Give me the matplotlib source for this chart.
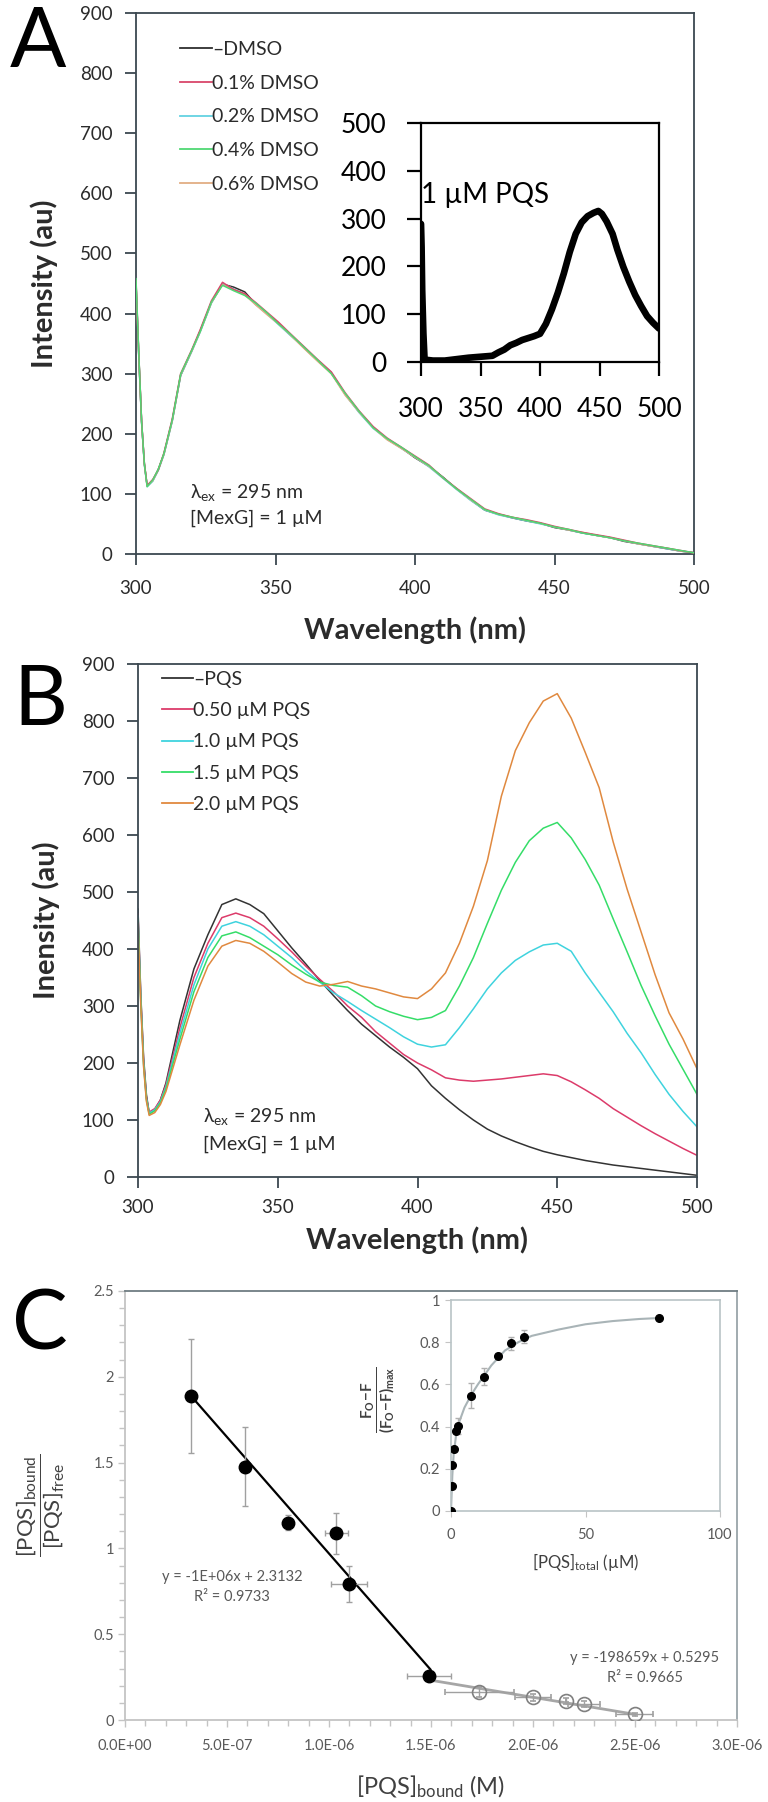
import matplotlib
matplotlib.use('Agg')
import matplotlib.pyplot as plt
from matplotlib.ticker import FixedLocator, FixedFormatter, MultipleLocator

W, H = 768, 1802
plt.rcParams['font.family'] = ['Lato', 'DejaVu Sans']
plt.rcParams['mathtext.fontset'] = 'custom'
plt.rcParams['mathtext.rm'] = 'Lato'
plt.rcParams['mathtext.it'] = 'Lato:italic'
plt.rcParams['mathtext.bf'] = 'Lato:bold'

# ---------------- Panel A data ----------------
wl_A = [300, 301, 302, 303, 304, 306, 308, 310, 313, 316, 320, 323, 327, 331, 335, 339, 343, 347,
        351, 355, 360, 365, 370, 375, 380, 385, 390, 395, 400, 405, 410, 415, 420, 425, 430, 435,
        440, 445, 450, 455, 460, 465, 470, 475, 480, 485, 490, 495, 500]
dmso_none = [450, 330, 220, 150, 113, 122, 141, 166, 222, 297, 338, 371, 418, 449, 444, 436, 415, 400,
             384, 366, 344, 322, 301, 266, 236, 211, 191, 177, 160, 146, 128, 108, 90, 73, 66, 60,
             55, 51, 44, 40, 35, 31, 27, 21, 17, 13, 9, 5, 2]
dmso_01 = [455, 332, 222, 151, 114, 124, 140, 168, 225, 300, 340, 373, 421, 452, 440, 433, 418, 402,
           386, 368, 346, 324, 303, 268, 238, 212, 193, 178, 163, 148, 127, 109, 92, 75, 67, 61,
           57, 52, 46, 41, 36, 32, 28, 23, 18, 14, 10, 6, 2]
dmso_02 = [452, 328, 219, 148, 112, 121, 139, 165, 221, 297, 337, 369, 417, 450, 441, 432, 415, 399,
           382, 365, 345, 323, 302, 265, 235, 209, 191, 176, 161, 145, 126, 107, 89, 73, 65, 60,
           55, 50, 45, 40, 35, 31, 27, 22, 17, 13, 9, 5, 2]
dmso_04 = [458, 333, 221, 150, 112, 123, 141, 167, 223, 299, 339, 370, 419, 447, 438, 430, 417, 401,
           383, 367, 345, 323, 300, 267, 237, 210, 192, 178, 162, 147, 127, 108, 91, 74, 66, 61,
           56, 51, 45, 41, 35, 31, 27, 22, 18, 14, 10, 6, 2]
dmso_06 = [453, 329, 220, 149, 113, 122, 140, 166, 222, 298, 338, 370, 418, 448, 440, 431, 414, 398,
           383, 366, 343, 321, 300, 264, 236, 210, 190, 176, 161, 146, 127, 108, 90, 74, 66, 61,
           56, 51, 45, 40, 36, 31, 27, 22, 17, 13, 10, 5, 2]
legend_A = ['–DMSO', '0.1% DMSO', '0.2% DMSO', '0.4% DMSO', '0.6% DMSO']
colors_A = ['#2e2e2e', '#d9476a', '#63d2e2', '#4fd873', '#e2ae84']

# inset of panel A (1 uM PQS)
ins_wl = [300, 300.5, 301, 302, 303, 310, 320, 330, 340, 350, 360, 365, 370, 375, 380, 385, 390,
          395, 400, 405, 410, 415, 420, 425, 430, 435, 440, 445, 449, 452, 456, 461, 465, 470,
          475, 480, 485, 490, 495, 500]
ins_int = [289, 240, 150, 60, 5, 3, 3, 6, 9, 11, 13, 20, 26, 35, 40, 46, 50,
           54, 59, 80, 110, 145, 185, 230, 268, 292, 305, 312, 316, 310, 294, 268, 235, 199,
           168, 140, 117, 96, 82, 70]

# ---------------- Panel B data ----------------
wl_B = [300, 301, 302, 303, 304, 306, 308, 310, 315, 320, 325, 330, 335, 340, 345, 350, 355, 360,
        365, 370, 375, 380, 385, 390, 395, 400, 405, 410, 415, 420, 425, 430, 435, 440, 445, 450,
        455, 460, 465, 470, 475, 480, 485, 490, 495, 500]
pqs_none = [470, 320, 210, 145, 112, 118, 135, 165, 275, 365, 425, 478, 488, 478, 462, 432, 402, 374,
            345, 318, 292, 268, 248, 228, 210, 190, 160, 138, 118, 100, 84, 72, 62, 53, 45, 39,
            34, 29, 25, 21, 18, 15, 12, 9, 6, 3]
pqs_050 = [462, 315, 205, 140, 114, 120, 135, 162, 262, 350, 410, 455, 463, 455, 440, 418, 395, 370,
           347, 325, 300, 280, 255, 235, 215, 200, 188, 174, 170, 168, 170, 172, 175, 178, 181, 178,
           167, 153, 138, 120, 105, 90, 76, 63, 50, 38]
pqs_10 = [458, 310, 200, 138, 112, 118, 132, 158, 252, 337, 400, 440, 448, 440, 425, 405, 385, 362,
          342, 323, 308, 292, 277, 262, 246, 233, 228, 232, 262, 295, 330, 358, 380, 395, 407, 410,
          396, 358, 324, 290, 252, 218, 180, 145, 115, 88]
pqs_15 = [452, 305, 197, 136, 110, 116, 130, 155, 242, 325, 385, 423, 430, 420, 405, 390, 372, 356,
          342, 336, 333, 318, 300, 290, 282, 276, 280, 292, 335, 385, 445, 503, 552, 590, 612, 622,
          595, 557, 512, 453, 395, 336, 283, 233, 189, 145]
pqs_20 = [445, 300, 193, 133, 108, 113, 127, 150, 232, 310, 370, 405, 415, 410, 396, 377, 357, 342,
          335, 338, 343, 335, 330, 323, 316, 313, 330, 358, 410, 475, 555, 668, 748, 797, 835, 848,
          805, 745, 683, 588, 505, 430, 355, 288, 242, 190]
legend_B = ['–PQS', '0.50 µM PQS', '1.0 µM PQS', '1.5 µM PQS', '2.0 µM PQS']
colors_B = ['#333333', '#dc3b6a', '#3fd3de', '#35dd68', '#e0893f']

ticks_AB_x = [300, 350, 400, 450, 500]
ticks_AB_y = [0, 100, 200, 300, 400, 500, 600, 700, 800, 900]
ticks_inset_y = [0, 100, 200, 300, 400, 500]

# ---------------- Panel C data ----------------
bound_filled = [3.24e-7, 5.88e-7, 8.0e-7, 1.036e-6, 1.096e-6, 1.49e-6]
ratio_filled = [1.888, 1.476, 1.150, 1.087, 0.794, 0.256]
ratio_filled_err = [0.33, 0.23, 0.045, 0.12, 0.105, 0.02]
bound_filled_err = [0.0, 2.5e-8, 0.0, 5.6e-8, 8.8e-8, 1.08e-7]
bound_open = [1.737e-6, 2.0e-6, 2.163e-6, 2.25e-6, 2.499e-6]
ratio_open = [0.165, 0.132, 0.111, 0.093, 0.033]
ratio_open_err = [0.03, 0.02, 0.015, 0.015, 0.01]
bound_open_err = [1.7e-7, 9e-8, 0.0, 7.8e-8, 9e-8]
fit1_x = [3.24e-7, 1.497e-6]
fit1_y = [1.888, 0.295]
fit2_x = [1.49e-6, 2.5e-6]
fit2_y = [0.2335, 0.0329]
c_xticks = [0, 5e-7, 1e-6, 1.5e-6, 2e-6, 2.5e-6, 3e-6]
c_xticklabels = ['0.0E+00', '5.0E-07', '1.0E-06', '1.5E-06', '2.0E-06', '2.5E-06', '3.0E-06']
c_yticks = [0, 0.5, 1, 1.5, 2, 2.5]
c_yticklabels = ['0', '0.5', '1', '1.5', '2', '2.5']

# inset of panel C (saturation binding)
tot_pqs = [0, 0.3, 0.5, 1.0, 2.0, 2.5, 7.3, 12.4, 17.3, 22.2, 27.3, 77.4]
frac_q = [0, 0.118, 0.217, 0.292, 0.379, 0.403, 0.546, 0.636, 0.735, 0.794, 0.826, 0.913]
frac_q_err = [0, 0, 0, 0, 0.01, 0.04, 0.06, 0.04, 0.015, 0.03, 0.03, 0.0]
satfit_x = [0, 0.5, 1, 2, 3, 5, 7.5, 10, 15, 20, 25, 30, 40, 50, 60, 70, 78]
satfit_y = [0, 0.17, 0.27, 0.37, 0.42, 0.49, 0.55, 0.60, 0.69, 0.76, 0.80, 0.83, 0.86, 0.885, 0.90, 0.91, 0.915]
ci_xticks = [0, 50, 100]
ci_yticks = [0, 0.2, 0.4, 0.6, 0.8, 1.0]
ci_yticklabels = ['0', '0.2', '0.4', '0.6', '0.8', '1']

# ---------------- helpers ----------------
fig = plt.figure(figsize=(W / 100, H / 100), dpi=100)


def rect(x0, y0, x1, y1):
    return [x0 / W, 1 - y1 / H, (x1 - x0) / W, (y1 - y0) / H]


def fx(x):
    return x / W


def fy(y):
    return 1 - y / H


SPINE = '#3b4850'
TXT = '#2b2b2b'


def style_spectrum_axes(ax, xpad, ypad):
    ax.set_xlim(300, 500)
    ax.set_ylim(0, 900)
    ax.set_xticks(ticks_AB_x)
    ax.set_yticks(ticks_AB_y)
    for s in ax.spines.values():
        s.set_color(SPINE)
        s.set_linewidth(1.3)
    ax.tick_params(direction='out', length=8, width=1.3, color=SPINE,
                   labelsize=13.5, labelcolor=TXT)
    ax.tick_params(axis='x', pad=xpad)
    ax.tick_params(axis='y', pad=ypad)


# ---------------- Panel A ----------------
axA = fig.add_axes(rect(136, 13, 694, 554))
zA = [2, 3, 2.5, 4, 2.8]
for lab, col, vals, z in zip(legend_A, colors_A, [dmso_none, dmso_01, dmso_02, dmso_04, dmso_06], zA):
    axA.plot(wl_A, vals, color=col, lw=1.1, label=lab, zorder=z)
style_spectrum_axes(axA, 11, 9)
legA = axA.legend(loc='upper left', bbox_to_anchor=(fx(180), fy(41)), bbox_transform=fig.transFigure,
                  frameon=False, fontsize=14, handlelength=1.65, handletextpad=0.0,
                  labelspacing=0.86, borderpad=0, borderaxespad=0)
for t in legA.get_texts():
    t.set_color(TXT)
for l in legA.get_lines():
    l.set_linewidth(1.3)

fig.text(fx(38), fy(67), 'A', fontsize=60, ha='center', va='baseline', color='black')
fig.text(fx(44), fy(284), 'Intensity (au)', fontsize=21, fontweight='bold', rotation=90,
         ha='center', va='center', color=TXT)
fig.text(fx(415), fy(630), 'Wavelength (nm)', fontsize=21, fontweight='bold',
         ha='center', va='center', color=TXT)
fig.text(fx(190), fy(498), r'$\mathregular{\lambda_{ex}}$ = 295 nm', fontsize=14, color=TXT, va='baseline')
fig.text(fx(190), fy(524), '[MexG] = 1 µM', fontsize=14, color=TXT, va='baseline')

axI = fig.add_axes(rect(421, 123, 659, 362))
axI.plot(ins_wl, ins_int, color='black', lw=4.8, solid_joinstyle='round', solid_capstyle='round')
axI.set_xlim(300, 500)
axI.set_ylim(0, 500)
axI.set_xticks(ticks_AB_x)
axI.set_yticks(ticks_inset_y)
for s in axI.spines.values():
    s.set_color('black')
    s.set_linewidth(1.6)
axI.tick_params(direction='out', length=10, width=1.6, color='black', labelsize=19, labelcolor='black')
axI.tick_params(axis='y', pad=15)
axI.tick_params(axis='x', pad=15)
fig.text(fx(421), fy(203), '1 µM PQS', fontsize=20, color='black', va='baseline')

# ---------------- Panel B ----------------
axB = fig.add_axes(rect(138, 664, 697, 1177))
for lab, col, vals in zip(legend_B, colors_B, [pqs_none, pqs_050, pqs_10, pqs_15, pqs_20]):
    axB.plot(wl_B, vals, color=col, lw=1.1, label=lab)
style_spectrum_axes(axB, 8, 9)
legB = axB.legend(loc='upper left', bbox_to_anchor=(fx(162), fy(671)), bbox_transform=fig.transFigure,
                  frameon=False, fontsize=14, handlelength=1.6, handletextpad=0.0,
                  labelspacing=0.73, borderpad=0, borderaxespad=0)
for t in legB.get_texts():
    t.set_color(TXT)
for l in legB.get_lines():
    l.set_linewidth(1.3)

fig.text(fx(40), fy(725), 'B', fontsize=60, ha='center', va='baseline', color='black')
fig.text(fx(46), fy(920), 'Inensity (au)', fontsize=21, fontweight='bold', rotation=90,
         ha='center', va='center', color=TXT)
fig.text(fx(417), fy(1240), 'Wavelength (nm)', fontsize=21, fontweight='bold',
         ha='center', va='center', color=TXT)
fig.text(fx(203), fy(1122), r'$\mathregular{\lambda_{ex}}$ = 295 nm', fontsize=14, color=TXT, va='baseline')
fig.text(fx(203), fy(1150), '[MexG] = 1 µM', fontsize=14, color=TXT, va='baseline')

# ---------------- Panel C ----------------
GRAYAX = '#c4c4c4'
GRAYTXT = '#595959'
axC = fig.add_axes(rect(125, 1291, 737, 1720))
axC.plot(fit1_x, fit1_y, color='black', lw=1.6, zorder=3)
axC.plot(fit2_x, fit2_y, color='#a6a6a6', lw=2.0, zorder=2)
axC.errorbar(bound_filled, ratio_filled, yerr=ratio_filled_err, xerr=bound_filled_err, fmt='o',
             color='black', ms=9, ecolor='#a0a0a0', elinewidth=1, capsize=2.5, zorder=4)
axC.errorbar(bound_open, ratio_open, yerr=ratio_open_err, xerr=bound_open_err, fmt='o',
             mfc='none', mec='#808080', mew=1.2, ms=10, ecolor='#a0a0a0', elinewidth=1,
             capsize=2.5, zorder=4)
axC.set_xlim(0, 3e-6)
axC.set_ylim(0, 2.5)
axC.xaxis.set_major_locator(FixedLocator(c_xticks))
axC.xaxis.set_major_formatter(FixedFormatter(c_xticklabels))
axC.yaxis.set_major_locator(FixedLocator(c_yticks))
axC.yaxis.set_major_formatter(FixedFormatter(c_yticklabels))
axC.xaxis.set_minor_locator(MultipleLocator(1e-7))
axC.yaxis.set_minor_locator(MultipleLocator(0.1))
axC.spines['left'].set_color(GRAYAX)
axC.spines['bottom'].set_color(GRAYAX)
axC.spines['top'].set_color('#6f7d82')
axC.spines['right'].set_color('#9aa5a9')
for s in axC.spines.values():
    s.set_linewidth(1.3)
axC.tick_params(which='both', direction='out', color=GRAYAX, width=1, labelsize=10.5, labelcolor=GRAYTXT)
axC.tick_params(which='major', length=5)
axC.tick_params(which='minor', length=4)
axC.tick_params(axis='y', pad=3)
axC.tick_params(axis='x', pad=9)
axC.tick_params(axis='x', which='both', top=False)
axC.tick_params(axis='y', which='both', right=False)

fig.text(fx(232), fy(1577), 'y = -1E+06x + 2.3132', fontsize=10.5, color=GRAYTXT, ha='center', va='center')
fig.text(fx(232), fy(1597), 'R² = 0.9733', fontsize=10.5, color=GRAYTXT, ha='center', va='center')
fig.text(fx(645), fy(1658), 'y = -198659x + 0.5295', fontsize=10.5, color=GRAYTXT, ha='center', va='center')
fig.text(fx(645), fy(1678), 'R² = 0.9665', fontsize=10.5, color=GRAYTXT, ha='center', va='center')

fig.text(fx(40), fy(1350), 'C', fontsize=60, ha='center', va='baseline', color='black')
fig.text(fx(40), fy(1505), r'$\dfrac{\mathregular{[PQS]_{bound}}}{\mathregular{[PQS]_{free}}}$',
         fontsize=16, rotation=90, ha='center', va='center', color='#404040')
fig.text(fx(431), fy(1787), r'[PQS]$\mathregular{_{bound}}$ (M)', fontsize=17,
         ha='center', va='center', color='#404040')

axCI = fig.add_axes(rect(451, 1300, 720, 1511))
axCI.plot(satfit_x, satfit_y, color='#a9b4b7', lw=1.5, zorder=2)
axCI.errorbar(tot_pqs, frac_q, yerr=frac_q_err, fmt='o', color='black', ms=5.5,
              ecolor='#b0b0b0', elinewidth=1, capsize=2, zorder=3)
axCI.set_xlim(0, 100)
axCI.set_ylim(0, 1)
axCI.xaxis.set_major_locator(FixedLocator(ci_xticks))
axCI.yaxis.set_major_locator(FixedLocator(ci_yticks))
axCI.yaxis.set_major_formatter(FixedFormatter(ci_yticklabels))
for s in axCI.spines.values():
    s.set_color('#b9c3c6')
    s.set_linewidth(1.2)
axCI.tick_params(direction='out', length=4, color=GRAYAX, labelsize=10.5, labelcolor=GRAYTXT)
axCI.tick_params(axis='y', pad=4)
axCI.tick_params(axis='x', pad=8)
fig.text(fx(378), fy(1400), r'$\dfrac{\mathbf{F_O\!-\!F}}{\mathbf{(F_O\!-\!F)_{max}}}$',
         fontsize=11, rotation=90, ha='center', va='center', color='#404040')
fig.text(fx(586), fy(1562), r'[PQS]$\mathregular{_{total}}$ (µM)', fontsize=12,
         ha='center', va='center', color='#404040')

fig.savefig('out.png', dpi=100)
